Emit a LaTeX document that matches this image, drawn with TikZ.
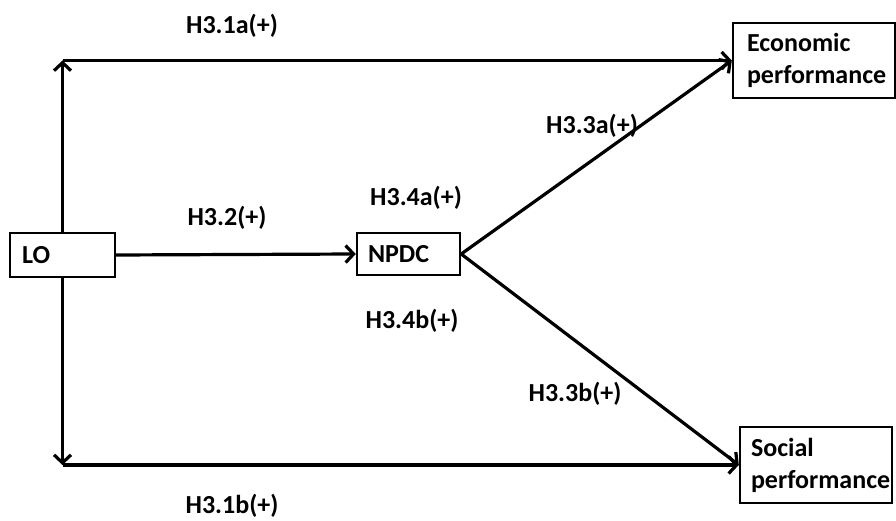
\documentclass[tikz,border=0pt]{standalone}
\usepackage{fontspec}
\setmainfont{Carlito}
\usetikzlibrary{arrows.meta}

\begin{document}
\begin{tikzpicture}[x = 1pt, y = -1pt, line width = 3.2pt,
                    font = \fontsize{26}{32}\selectfont\bfseries,
                    box/.style = {draw, rectangle, align = left, inner ysep = 2pt, line width = 2.4pt},
                    hyp/.style = {inner sep = 0pt},
                    arr/.style = {-{Straight Barb[length = 8pt, width = 17pt]}}]
      \useasboundingbox (0, 0) rectangle (896, 521);

      \node [box, text width = 81pt, inner xsep = 12pt, minimum height = 44pt] (lo) at (62.5, 255){LO};
      \node [box, text width = 81pt, inner xsep = 11pt, minimum height = 42pt] (npdc) at (408.5, 254){NPDC};
      \node [box, text width = 134pt, inner xsep = 14pt, minimum height = 75pt] (econ) at (814, 60.5){Economic\\performance};
      \node [box, text width = 130pt, inner xsep = 11pt, minimum height = 76pt] (soc) at (816, 465){Social\\performance};

      \coordinate (top) at (lo.north |- econ.west);
      \coordinate (bot) at (lo.south |- soc.west);

      \draw [arr] (lo.north) -- (top);
      \draw [arr] (top) -- (econ.west);
      \draw [arr] (lo.south) -- (bot);
      \draw [arr] (bot) -- (soc.west);
      \draw [arr] (lo.east) -- (npdc.west);
      \draw [arr] (npdc.east) -- (econ.west);
      \draw [arr] (npdc.east) -- (soc.west);

      \node [hyp] (h31a) at (232, 26){H3.1a(+)};
      \node [hyp] (h32) at (227, 218){H3.2(+)};
      \node [hyp] (h34a) at (416, 198){H3.4a(+)};
      \node [hyp] (h33a) at (592, 126){H3.3a(+)};
      \node [hyp] (h34b) at (412, 321){H3.4b(+)};
      \node [hyp] (h33b) at (575, 394){H3.3b(+)};
      \node [hyp] (h31b) at (232, 506){H3.1b(+)};
\end{tikzpicture}
\end{document}
